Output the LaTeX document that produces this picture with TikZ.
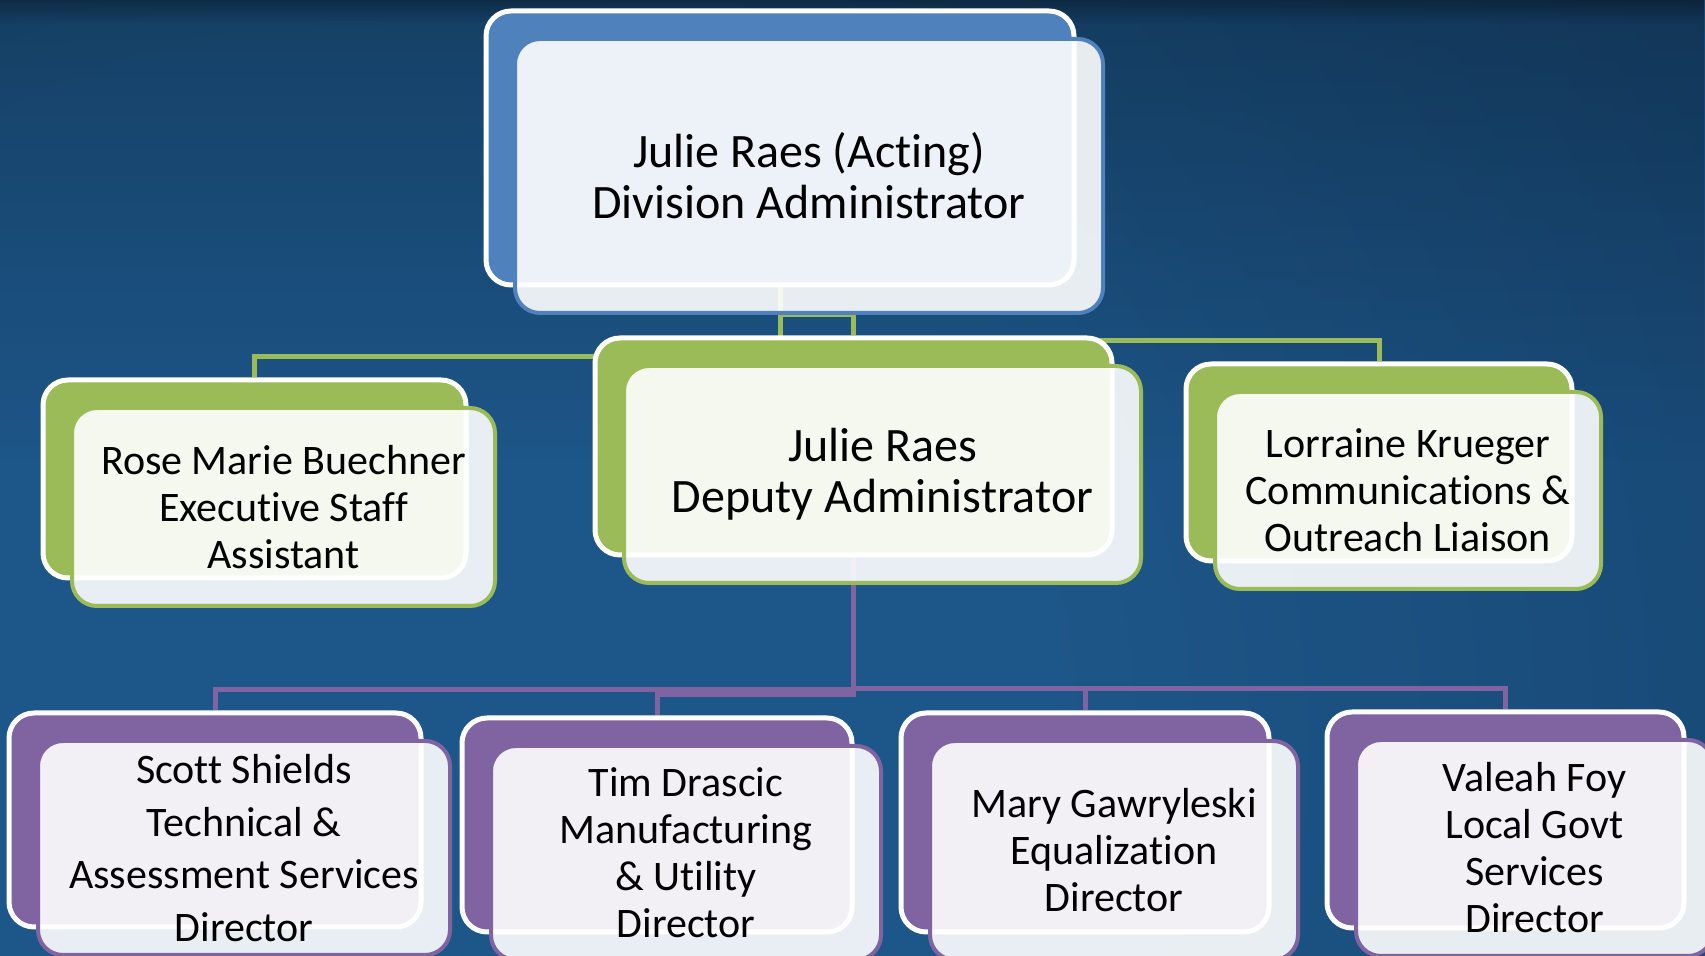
\documentclass[tikz,border=0pt]{standalone}
\usepackage{fontspec}
\setmainfont{Carlito}[Ligatures={NoCommon}]
\usetikzlibrary{fadings}
\tikzfading[name=topdark, top color=transparent!0, bottom color=transparent!100]
\pgfdeclarelayer{bg}
\pgfdeclarelayer{links}
\pgfsetlayers{bg,links,main}
\definecolor{accBlue}{HTML}{4F81BD}
\definecolor{accGreen}{HTML}{9BBB59}
\definecolor{accPurple}{HTML}{8064A2}
\definecolor{bgInner}{HTML}{1D5688}
\definecolor{bgOuter}{HTML}{0C2545}
\pgfdeclareradialshading{slidebg}{\pgfpoint{0bp}{0bp}}{color(0bp)=(bgInner); color(10bp)=(bgInner); color(50bp)=(bgOuter)}
\tikzset{
  backbox/.style={draw=white, line width=2.5pt, fill=#1, rounded corners=12.5pt, inner sep=0pt},
  frontbox/.style={draw=#1, line width=2pt, fill=white, fill opacity=0.9, text opacity=1,
    rounded corners=12.5pt, inner sep=0pt, align=center, text=black},
  link/.style={draw=#1, line width=2.5pt},
  fontBig/.style={font=\fontsize{24}{25.5}\selectfont},
  fontMid/.style={font=\fontsize{21}{23.5}\selectfont},
  fontWide/.style={font=\fontsize{21}{26.3}\selectfont},
}
% one org-chart unit: coloured back plate plus translucent front card with the text
% #1 name, #2 accent colour, #3-#6 back plate corners (x1,y1,x2,y2), #7 text style, #8 text
\newcommand\orgunit[8]{%
  \node[backbox=#2, minimum width={(#5-#3)*0.5pt}, minimum height={(#6-#4)*0.5pt}]
    (#1B) at ({(#3+#5)/2},{(#4+#6)/2}) {};
  \node[frontbox=#2, #7, minimum width={(#5-#3)*0.5pt}, minimum height={(#6-#4)*0.5pt}]
    (#1F) at ({(#3+#5)/2+29},{(#4+#6)/2+28}) {#8};
}
\begin{document}
\begin{tikzpicture}[x=0.5pt, y=-0.5pt]
\useasboundingbox (0,0) rectangle (1705,956);
\begin{scope}
\clip (0,0) rectangle (1705,956);

\begin{pgfonlayer}{bg}
  % slide background: radial blue glow, darker towards the top edge
  \shade[shading=slidebg] (350,750) circle (1750);
  \fill[black, fill opacity=0.25, path fading=topdark] (0,0) rectangle (1705,460);
  \fill[black, fill opacity=0.3, path fading=topdark] (0,0) rectangle (1705,24);
\end{pgfonlayer}

\orgunit{top}{accBlue}{486}{11}{1074}{285}{fontBig}{Julie Raes (Acting)\\Division Administrator}
\orgunit{dep}{accGreen}{595}{338}{1112}{555}{fontBig}{Julie Raes\\Deputy Administrator}
\orgunit{asL}{accGreen}{43}{380}{466}{578}{fontMid}{Rose Marie Buechner\\Executive Staff\\Assistant}
\orgunit{asR}{accGreen}{1186}{364}{1572}{561}{fontMid}{Lorraine Krueger\\Communications \&\\Outreach Liaison}
\orgunit{cA}{accPurple}{9}{713}{421}{927}{fontWide}{Scott Shields\\Technical \&\\Assessment Services\\Director}
\orgunit{cB}{accPurple}{462}{718}{852}{932}{fontMid}{Tim Drascic\\Manufacturing\\\& Utility\\Director}
\orgunit{cC}{accPurple}{901}{713}{1269}{932}{fontMid}{Mary Gawryleski\\Equalization\\Director}
\orgunit{cD}{accPurple}{1327}{712}{1684}{928}{fontMid}{Valeah Foy\\Local Govt\\Services\\Director}

\begin{pgfonlayer}{links}
  \coordinate (jDep) at (0,315);
  \coordinate (jAsL) at (0,357);
  \coordinate (jAsR) at (0,341);
  \coordinate (jA) at (0,690);
  \coordinate (jB) at (0,695);
  \coordinate (jC) at (0,689);
  \draw[link=accGreen] (topB.south) -- (topB.south |- jDep) -| (depB.north);
  \draw[link=accGreen] (topB.south) -- (topB.south |- jAsL) -| (asLB.north);
  \draw[link=accGreen] (topB.south) -- (topB.south |- jAsR) -| (asRB.north);
  \draw[link=accPurple] (depB.south) -- (depB.south |- jA) -| (cAB.north);
  \draw[link=accPurple] (depB.south) -- (depB.south |- jB) -| (cBB.north);
  \draw[link=accPurple] (depB.south) -- (depB.south |- jC) -| (cCB.north);
  \draw[link=accPurple] (depB.south) -- (depB.south |- jC) -| (cDB.north);
\end{pgfonlayer}
\end{scope}
\end{tikzpicture}
\end{document}
